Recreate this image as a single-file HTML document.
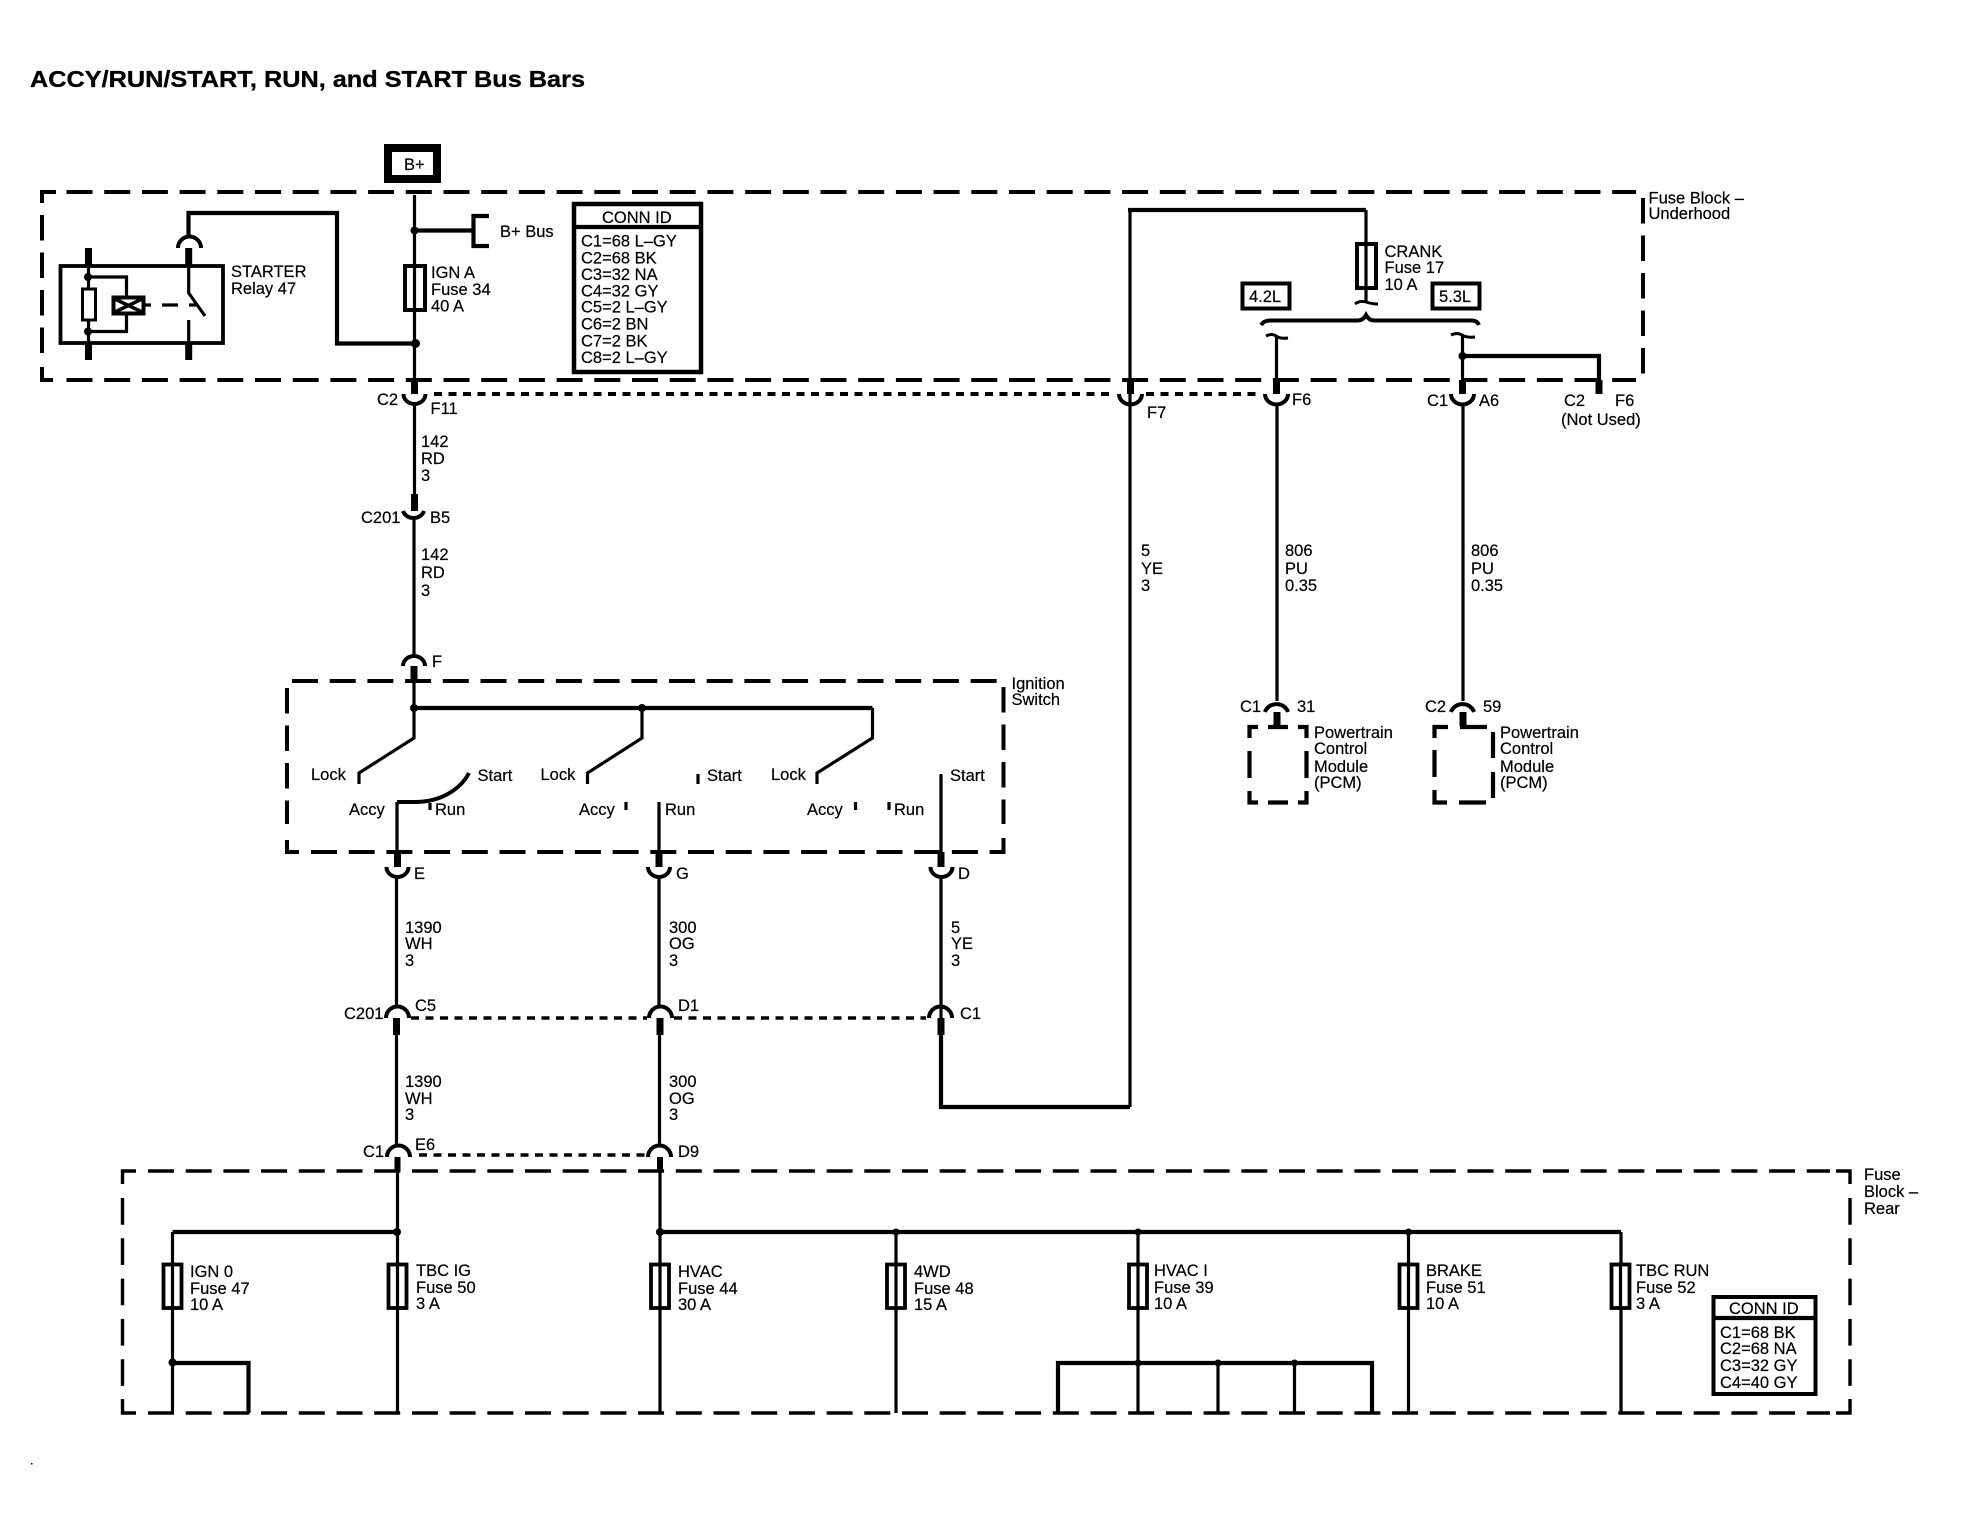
<!DOCTYPE html>
<html lang="en">
<head>
<meta charset="utf-8">
<title>ACCY/RUN/START, RUN, and START Bus Bars</title>
<style>
html,body{margin:0;padding:0;background:#fff;width:1980px;height:1536px;overflow:hidden}
svg{display:block}
text{font-family:"Liberation Sans",sans-serif;font-size:16.5px;fill:#000;stroke:#000;stroke-width:.2}
.t{font-size:23px;font-weight:bold;stroke:#000;stroke-width:.3}
.w{fill:none;stroke:#000;stroke-width:3.2}
.h{fill:none;stroke:#000;stroke-width:4.2}
.k{fill:none;stroke:#000;stroke-width:7}
.a{fill:none;stroke:#000;stroke-width:4}
.d1h{fill:none;stroke:#000;stroke-width:4;stroke-dasharray:26 11.7}
.d1v{fill:none;stroke:#000;stroke-width:4;stroke-dasharray:25.500 12}
.d2h{fill:none;stroke:#000;stroke-width:3.4;stroke-dasharray:26 11.7}
.d2v{fill:none;stroke:#000;stroke-width:3.4;stroke-dasharray:26.700 13.600}
.s{fill:none;stroke:#000;stroke-width:4;stroke-dasharray:8 6.5}
.f{fill:#fff;stroke:#000;stroke-width:3.800}
</style>
</head>
<body>
<svg width="1980" height="1536" viewBox="0 0 1980 1536" xmlns="http://www.w3.org/2000/svg">
<rect width="1980" height="1536" fill="#fff"/>
<text class="t" x="30" y="87" textLength="555" lengthAdjust="spacingAndGlyphs">ACCY/RUN/START, RUN, and START Bus Bars</text>
<rect x="31" y="1463" width="1.5" height="1.5" fill="#000"/>

<!-- Underhood box -->
<path class="d1h" d="M66.500 192H1636M66.500 380H1636"/>
<path class="d1v" d="M42 215V354"/>
<path class="d1v" d="M1643 198V375"/>
<path class="h" d="M56 192H42V203M42 367V380H53" style="stroke-width:4"/>

<!-- B+ -->
<rect x="388" y="148" width="49" height="31" fill="#fff" stroke="#000" stroke-width="8"/>
<text x="404" y="170">B+</text>
<path class="w" d="M414.500 195V393"/>
<path class="h" d="M414.500 230.500H473"/>
<path class="h" d="M489 216H473.500V246H489"/>
<circle cx="414.500" cy="230.500" r="4"/>
<text x="500" y="237">B+ Bus</text>

<!-- Conn ID top -->
<rect x="574" y="204" width="127" height="168" fill="#fff" stroke="#000" stroke-width="4.500"/>
<path class="h" d="M574 227H701"/>
<text x="602" y="223">CONN ID</text>
<text x="581" y="246.500">C1=68 L–GY</text>
<text x="581" y="263.500">C2=68 BK</text>
<text x="581" y="280">C3=32 NA</text>
<text x="581" y="296.500">C4=32 GY</text>
<text x="581" y="312.500">C5=2 L–GY</text>
<text x="581" y="329.500">C6=2 BN</text>
<text x="581" y="346.500">C7=2 BK</text>
<text x="581" y="363">C8=2 L–GY</text>

<!-- Starter relay -->
<rect x="60.500" y="266" width="162.500" height="77" fill="none" stroke="#000" stroke-width="3.800"/>
<path class="k" d="M88.500 248V265M88.500 343V360M188.700 248V265M188.700 343V360"/>
<path class="w" d="M88.500 265V343M188.700 265V293L205 316M188.700 320V343"/>
<rect x="82.500" y="289" width="13" height="31" fill="#fff" stroke="#000" stroke-width="3"/>
<path class="w" d="M88 277H126.500V297M126.500 313V331.500H88"/>
<rect x="113.500" y="297.500" width="30" height="16" fill="#fff" stroke="#000" stroke-width="4"/>
<path d="M115 299L142 312M142 299L115 312" stroke="#000" stroke-width="3.500"/>
<path class="w" d="M145 305H151M162 305H178M189 305H197"/>
<circle cx="88" cy="277" r="4"/><circle cx="88" cy="331.500" r="4"/>
<path class="a" d="M178 248A11.500 11.500 0 0 1 201 248"/>
<path class="h" d="M188.500 237V213H337V343.500H415"/>
<circle cx="415.500" cy="343.500" r="4.500"/>
<text x="231" y="277">STARTER</text>
<text x="231" y="294">Relay 47</text>

<!-- IGN A fuse -->
<rect x="405" y="266" width="20" height="44" fill="#fff" stroke="#000" stroke-width="4"/>
<path class="w" d="M414.500 264V312"/>
<text x="431" y="278">IGN A</text>
<text x="431" y="295">Fuse 34</text>
<text x="431" y="311.500">40 A</text>

<!-- C2 F11 -->
<path class="k" d="M414.500 380V394"/>
<path class="a" d="M403.500 394A11 10 0 0 0 425.500 394"/>
<path class="w" d="M414.500 403V494"/>
<text x="377" y="405">C2</text>
<text x="430.500" y="414">F11</text>
<path class="s" d="M434 394H1115"/>
<path class="s" d="M1146 394H1262"/>

<!-- 142 RD 3 -->
<text x="421" y="447">142</text><text x="421" y="464">RD</text><text x="421" y="481">3</text>
<path class="k" d="M414.500 494V511"/>
<path class="a" d="M403 511A11 10 0 0 0 424 511"/>
<path class="w" d="M414 520V655"/>
<text x="361" y="523">C201</text>
<text x="430" y="523">B5</text>
<text x="421" y="560">142</text><text x="421" y="578">RD</text><text x="421" y="596">3</text>
<path class="a" d="M403 666A11 10 0 0 1 425 666"/>
<text x="432" y="667">F</text>
<path class="k" d="M414 666V681"/>

<!-- Ignition switch box -->
<path class="d1h" d="M292 681H997"/>
<path class="d1h" d="M311 852H992"/>
<path class="d1v" d="M287 688V824"/>
<path class="d1v" d="M1003.500 687V824"/>
<path class="h" d="M287 840V852H299M992 852H1003.500V838" style="stroke-width:4"/>
<text x="1011.500" y="689">Ignition</text>
<text x="1011.500" y="705">Switch</text>

<path class="w" d="M414 681V738L359 773V784"/>
<path class="h" d="M414 708H872.500"/>
<path class="w" d="M642 708V738L587.500 773V784"/>
<path class="w" d="M872.500 708V738L817 773V784"/>
<circle cx="414" cy="708" r="4"/><circle cx="642" cy="708" r="4"/>
<path class="w" d="M397 852V802"/>
<path class="a" d="M397 802H415C440 802 460 790 469 773"/>
<path class="w" d="M430 803V810M698 774V784M626 802V810M855.500 802V810M889 802V810"/>
<path class="w" d="M659 802V866M941 774V866"/>
<text x="311" y="780">Lock</text><text x="477.500" y="781">Start</text>
<text x="349" y="815">Accy</text><text x="435" y="815">Run</text>
<text x="540.500" y="780">Lock</text><text x="707" y="781">Start</text>
<text x="579" y="815">Accy</text><text x="665" y="815">Run</text>
<text x="771" y="780">Lock</text><text x="950" y="781">Start</text>
<text x="807" y="815">Accy</text><text x="894" y="815">Run</text>

<!-- E G D connectors -->
<path class="k" d="M397.500 852V867M659 852V867M941 852V867"/>
<path class="a" d="M386.500 867A11 10 0 0 0 408.500 867"/>
<path class="a" d="M648 867A11 10 0 0 0 670 867"/>
<path class="a" d="M930.500 867A11 10 0 0 0 952.500 867"/>
<path class="w" d="M396.500 876V1007M659 876V1007M941 876V1018"/>
<text x="414" y="879">E</text><text x="676" y="879">G</text><text x="958" y="879">D</text>

<text x="405" y="933">1390</text><text x="405" y="949">WH</text><text x="405" y="966">3</text>
<text x="669" y="933">300</text><text x="669" y="949">OG</text><text x="669" y="966">3</text>
<text x="951" y="933">5</text><text x="951" y="949">YE</text><text x="951" y="966">3</text>

<!-- C201 row -->
<path class="a" d="M386 1018A11 11 0 0 1 409 1018"/>
<path class="a" d="M649 1018A11 11 0 0 1 672 1018"/>
<path class="a" d="M929 1018A11 11 0 0 1 952 1018"/>
<path class="s" d="M411 1018H647M674 1018H926" style="stroke-width:3.500"/>
<path class="k" d="M396.500 1018V1035M660 1018V1035M941 1018V1035"/>
<text x="344" y="1019">C201</text><text x="415" y="1011">C5</text><text x="678" y="1011">D1</text><text x="960" y="1019">C1</text>
<path class="w" d="M396.500 1035V1146M659.500 1035V1146"/>
<path class="h" d="M941 1035V1107H1130"/>
<path class="w" d="M1130 1107V394"/>
<text x="405" y="1087">1390</text><text x="405" y="1104">WH</text><text x="405" y="1120">3</text>
<text x="669" y="1087">300</text><text x="669" y="1104">OG</text><text x="669" y="1120">3</text>
<text x="1141" y="556">5</text><text x="1141" y="574">YE</text><text x="1141" y="591">3</text>

<!-- F7 + crank -->
<path class="w" d="M1130 394V210"/>
<path class="h" d="M1128 210H1366"/>
<path class="w" d="M1366 210V243"/>
<path class="k" d="M1130.500 380V394"/>
<path class="a" d="M1119 394A11 10 0 0 0 1142 394"/>
<text x="1147" y="418">F7</text>
<rect x="1357" y="244" width="19" height="44" fill="#fff" stroke="#000" stroke-width="4"/>
<path class="w" d="M1366 243V302"/>
<path class="a" d="M1355 304Q1360 300 1366 302T1378 304" style="stroke-width:3"/>
<text x="1384.500" y="257">CRANK</text>
<text x="1384.500" y="273">Fuse 17</text>
<text x="1384.500" y="290">10 A</text>
<rect x="1242.500" y="283.500" width="47" height="25" fill="#fff" stroke="#000" stroke-width="4"/>
<text x="1249" y="302">4.2L</text>
<rect x="1432.500" y="283.500" width="47" height="25" fill="#fff" stroke="#000" stroke-width="4"/>
<text x="1439" y="302">5.3L</text>
<path class="a" d="M1261 325Q1264 320.500 1270 320.500H1358Q1363 320.500 1366 315Q1369 320.500 1374 320.500H1472Q1477 320.500 1479 325"/>
<path class="a" d="M1266 336Q1272 333 1276 336T1288 338" style="stroke-width:3"/>
<path class="w" d="M1276.500 336V380"/>
<path class="k" d="M1276.500 380V394"/>
<path class="a" d="M1265 394A11 10 0 0 0 1288 394"/>
<text x="1292" y="405">F6</text>
<path class="a" d="M1451 335Q1457 332 1462 335T1475 337" style="stroke-width:3"/>
<path class="w" d="M1462.500 335V380"/>
<path class="h" d="M1462.500 356H1599V380"/>
<circle cx="1462.500" cy="356" r="4"/>
<path class="k" d="M1462.500 380V394M1599 380V394"/>
<path class="a" d="M1451 394A11 10 0 0 0 1474 394"/>
<text x="1427" y="406">C1</text><text x="1479" y="406">A6</text>
<text x="1564" y="406">C2</text><text x="1615" y="406">F6</text>
<text x="1561" y="425">(Not Used)</text>
<text x="1648.500" y="203.500">Fuse Block –</text>
<text x="1648.500" y="219">Underhood</text>

<!-- PCM wires -->
<path class="w" d="M1277 403V701M1463 403V701"/>
<text x="1285" y="556">806</text><text x="1285" y="574">PU</text><text x="1285" y="591">0.35</text>
<text x="1471" y="556">806</text><text x="1471" y="574">PU</text><text x="1471" y="591">0.35</text>
<path class="a" d="M1265 712A12 11 0 0 1 1288 712"/>
<path class="a" d="M1451 712A12 11 0 0 1 1474 712"/>
<path class="k" d="M1277 712V726M1463 712V726"/>
<text x="1240" y="712">C1</text><text x="1297" y="712">31</text>
<text x="1425" y="712">C2</text><text x="1483" y="712">59</text>
<path class="h" d="M1258 727H1249.500V738M1268 727H1288M1298 727H1306.500V738M1249.500 751V778M1306.500 751V778M1249.500 791V802.500H1258M1268 802.500H1288M1298 802.500H1306.500V791"/>
<path class="h" d="M1448 727H1434.500V738M1460 727H1487M1493 732V758M1493 772V798M1434.500 750V777M1434.500 790V802.500H1447M1459 802.500H1486"/>
<text x="1314" y="738">Powertrain</text><text x="1314" y="754">Control</text><text x="1314" y="772">Module</text><text x="1314" y="788">(PCM)</text>
<text x="1500" y="738">Powertrain</text><text x="1500" y="754">Control</text><text x="1500" y="772">Module</text><text x="1500" y="788">(PCM)</text>

<!-- Rear fuse block -->
<path class="a" d="M387 1157A11 11 0 0 1 410 1157"/>
<path class="a" d="M648 1157A11 11 0 0 1 671 1157"/>
<path class="k" d="M397.500 1157V1172M660 1157V1172" style="stroke-width:6"/>
<path class="s" d="M419 1155H646" style="stroke-width:3.500"/>
<text x="363" y="1157">C1</text><text x="415" y="1150">E6</text><text x="678" y="1157">D9</text>
<path class="d2h" d="M148 1171H1830M148 1413H1830"/>
<path class="d2v" d="M122.500 1198V1387"/>
<path class="d2v" d="M1850 1198V1387"/>
<path class="h" d="M136 1171H122.500V1184M122.500 1399V1413H136M1836 1171H1850V1184M1850 1399V1413H1836" style="stroke-width:3.400"/>

<path class="h" d="M172.500 1232H397M660 1232H1621"/>
<path class="w" d="M172.500 1232V1413M397.500 1172V1413M660 1172V1413M896 1232V1413M1138 1232V1413M1408.500 1232V1413M1621 1232V1413"/>
<circle cx="397" cy="1232" r="4"/><circle cx="660" cy="1232" r="4"/>
<circle cx="896" cy="1232" r="3.500"/><circle cx="1138" cy="1232" r="3.500"/><circle cx="1408.500" cy="1232" r="3.500"/>

<rect x="163.500" y="1264.500" width="18" height="43.500" class="f"/><path class="w" d="M172.500 1262V1310"/>
<rect x="388.500" y="1264.500" width="18" height="43.500" class="f"/><path class="w" d="M397.500 1262V1310"/>
<rect x="651" y="1264.500" width="18" height="43.500" class="f"/><path class="w" d="M660 1262V1310"/>
<rect x="887" y="1264.500" width="18" height="43.500" class="f"/><path class="w" d="M896 1262V1310"/>
<rect x="1129" y="1264.500" width="18" height="43.500" class="f"/><path class="w" d="M1138 1262V1310"/>
<rect x="1399.500" y="1264.500" width="18" height="43.500" class="f"/><path class="w" d="M1408.500 1262V1310"/>
<rect x="1611.500" y="1264.500" width="18" height="43.500" class="f"/><path class="w" d="M1620.500 1262V1310"/>

<text x="190" y="1277">IGN 0</text><text x="190" y="1294">Fuse 47</text><text x="190" y="1310">10 A</text>
<text x="416" y="1276">TBC IG</text><text x="416" y="1293">Fuse 50</text><text x="416" y="1309">3 A</text>
<text x="678" y="1277">HVAC</text><text x="678" y="1294">Fuse 44</text><text x="678" y="1310">30 A</text>
<text x="914" y="1277">4WD</text><text x="914" y="1294">Fuse 48</text><text x="914" y="1310">15 A</text>
<text x="1154" y="1276">HVAC I</text><text x="1154" y="1293">Fuse 39</text><text x="1154" y="1309">10 A</text>
<text x="1426" y="1276">BRAKE</text><text x="1426" y="1293">Fuse 51</text><text x="1426" y="1309">10 A</text>
<text x="1636" y="1276">TBC RUN</text><text x="1636" y="1293">Fuse 52</text><text x="1636" y="1309">3 A</text>

<path class="h" d="M172.500 1363H248.500V1413"/>
<circle cx="172.500" cy="1362.500" r="4"/>
<path class="h" d="M1058 1413V1363H1372V1413"/>
<path class="w" d="M1218 1363V1413M1294.500 1363V1413"/>
<circle cx="1138" cy="1363" r="3.500"/><circle cx="1218" cy="1363" r="3.500"/><circle cx="1294.500" cy="1363" r="3.500"/>

<rect x="1713.500" y="1297" width="102" height="97" fill="#fff" stroke="#000" stroke-width="4"/>
<path class="h" d="M1713.500 1318H1815.500"/>
<text x="1729" y="1314">CONN ID</text>
<text x="1720" y="1338">C1=68 BK</text>
<text x="1720" y="1354">C2=68 NA</text>
<text x="1720" y="1371">C3=32 GY</text>
<text x="1720" y="1388">C4=40 GY</text>
<text x="1864" y="1180">Fuse</text>
<text x="1864" y="1197">Block –</text>
<text x="1864" y="1214">Rear</text>
</svg>
</body>
</html>
